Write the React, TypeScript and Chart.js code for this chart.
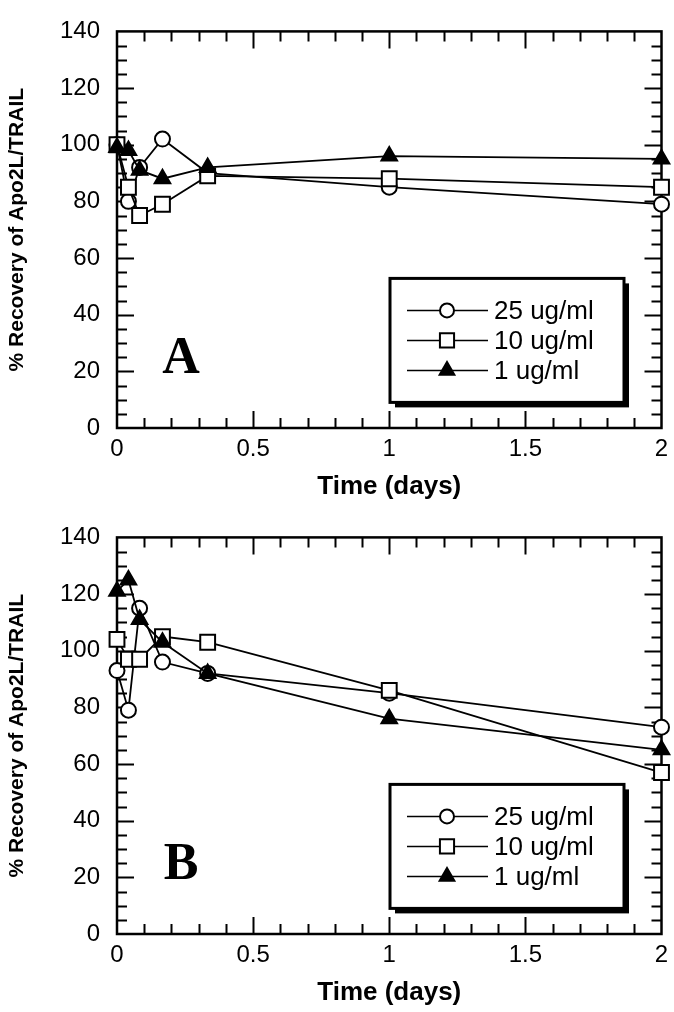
import React, { useEffect, useRef } from 'react';
import { Chart, registerables } from 'chart.js';

Chart.register(...registerables);

// ---- data ----
const timeDays = [0, 0.042, 0.083, 0.167, 0.333, 1, 2];
const seriesLabels = ['25 ug/ml', '10 ug/ml', '1 ug/ml'];

const panelA25 = [100, 80, 92, 102, 90, 85, 79];
const panelA10 = [100, 85, 75, 79, 89, 88, 85];
const panelA1 = [99, 98, 91, 88, 92, 96, 95];

const panelB25 = [93, 79, 115, 96, 92, 85, 73];
const panelB10 = [104, 97, 97, 105, 103, 86, 57];
const panelB1 = [121, 125, 111, 103, 92, 76, 65];

const yTickMax = 140;
const yTickStep = 20;
const xTickMax = 2;
const xTickStep = 0.5;

const FONT = "'Liberation Sans', Arial, Helvetica, sans-serif";

type Marker = 'circle' | 'rect' | 'triangle';

function drawMarker(ctx: CanvasRenderingContext2D, style: Marker, x: number, y: number, r: number) {
  ctx.beginPath();
  if (style === 'circle') {
    ctx.arc(x, y, r, 0, Math.PI * 2);
    ctx.fillStyle = '#fff';
    ctx.fill();
    ctx.stroke();
  } else if (style === 'rect') {
    const s = r * Math.SQRT1_2;
    ctx.rect(x - s, y - s, 2 * s, 2 * s);
    ctx.fillStyle = '#fff';
    ctx.fill();
    ctx.stroke();
  } else {
    let rad = 0;
    ctx.moveTo(x + Math.sin(rad) * r, y - Math.cos(rad) * r);
    rad += (2 * Math.PI) / 3;
    ctx.lineTo(x + Math.sin(rad) * r, y - Math.cos(rad) * r);
    rad += (2 * Math.PI) / 3;
    ctx.lineTo(x + Math.sin(rad) * r, y - Math.cos(rad) * r);
    ctx.closePath();
    ctx.fillStyle = '#000';
    ctx.fill();
    ctx.stroke();
  }
}

const decorPlugin = {
  id: 'decor',
  beforeDatasetsDraw(chart: any) {
    const { ctx, chartArea: ca, scales } = chart;
    const xs = scales.x;
    const ys = scales.y;
    ctx.save();
    ctx.strokeStyle = '#000';
    ctx.lineWidth = 2.5;
    ctx.strokeRect(ca.left, ca.top, ca.right - ca.left, ca.bottom - ca.top);
    ctx.lineWidth = 2;
    ctx.beginPath();
    for (let i = 1; i < 20; i++) {
      const px = Math.round(xs.getPixelForValue(i / 10)) + 0.5;
      const len = i % 5 === 0 ? 17 : 10;
      ctx.moveTo(px, ca.bottom);
      ctx.lineTo(px, ca.bottom - len);
      ctx.moveTo(px, ca.top);
      ctx.lineTo(px, ca.top + len);
    }
    for (let i = 1; i < 28; i++) {
      const v = i * 5;
      const py = Math.round(ys.getPixelForValue(v)) + 0.5;
      const len = v % 20 === 0 ? 17 : 10;
      ctx.moveTo(ca.left, py);
      ctx.lineTo(ca.left + len, py);
      ctx.moveTo(ca.right, py);
      ctx.lineTo(ca.right - len, py);
    }
    ctx.stroke();
    ctx.restore();
  },
  afterDraw(chart: any, _args: any, opts: any) {
    const { ctx, chartArea: ca } = chart;
    ctx.save();
    // panel letter
    ctx.fillStyle = '#000';
    ctx.font = "bold 52px 'Liberation Serif', 'Times New Roman', serif";
    ctx.textAlign = 'center';
    ctx.textBaseline = 'middle';
    ctx.fillText(opts.letter, ca.left + 64, ca.top + 328);

    // legend box
    const bx = ca.left + 273;
    const by = ca.top + 247;
    const bw = 234;
    const bh = 124;
    ctx.fillStyle = '#000';
    ctx.fillRect(bx + 5, by + 5, bw, bh);
    ctx.fillStyle = '#fff';
    ctx.fillRect(bx, by, bw, bh);
    ctx.strokeStyle = '#000';
    ctx.lineWidth = 3;
    ctx.strokeRect(bx, by, bw, bh);

    const ds = chart.data.datasets;
    ctx.font = `26px ${FONT}`;
    ctx.textAlign = 'left';
    ctx.textBaseline = 'middle';
    ds.forEach((d: any, i: number) => {
      const ry = by + 32 + i * 30;
      ctx.strokeStyle = '#000';
      ctx.lineWidth = 1.5;
      ctx.beginPath();
      ctx.moveTo(bx + 17, ry);
      ctx.lineTo(bx + 98, ry);
      ctx.stroke();
      ctx.lineWidth = 2;
      drawMarker(ctx, d.pointStyle, bx + 57, ry, d.pointStyle === 'rect' ? 10 : d.pointStyle === 'triangle' ? 8.5 : 7);
      ctx.fillStyle = '#000';
      ctx.fillText(d.label, bx + 104, ry + 1);
    });
    ctx.restore();
  },
};

function makeDatasets(v25: number[], v10: number[], v1: number[]) {
  const pts = (vals: number[]) => timeDays.map((t, i) => ({ x: t, y: vals[i] }));
  const base = {
    borderColor: '#000',
    borderWidth: 1.8,
    pointBorderColor: '#000',
    pointBorderWidth: 2,
    tension: 0,
    clip: false as const,
  };
  return [
    { ...base, label: seriesLabels[0], data: pts(v25), pointStyle: 'circle', pointRadius: 7.5, pointBackgroundColor: '#fff', order: 2 },
    { ...base, label: seriesLabels[1], data: pts(v10), pointStyle: 'rect', pointRadius: 10.5, pointBackgroundColor: '#fff', order: 1 },
    { ...base, label: seriesLabels[2], data: pts(v1), pointStyle: 'triangle', pointRadius: 9, pointBackgroundColor: '#000', order: 0 },
  ];
}

function Panel({ letter, v25, v10, v1, top }: { letter: string; v25: number[]; v10: number[]; v1: number[]; top: number }) {
  const ref = useRef<HTMLCanvasElement | null>(null);
  useEffect(() => {
    if (!ref.current) return;
    const chart = new Chart(ref.current, {
      type: 'line',
      data: { datasets: makeDatasets(v25, v10, v1) as any },
      plugins: [decorPlugin],
      options: {
        animation: false,
        responsive: false,
        devicePixelRatio: 1,
        layout: { padding: { top: 26, right: 11, left: 0, bottom: 0 } },
        plugins: {
          legend: { display: false },
          tooltip: { enabled: false },
          decor: { letter },
        } as any,
        scales: {
          x: {
            type: 'linear',
            min: 0,
            max: xTickMax,
            grid: { display: false, drawTicks: false },
            border: { display: false },
            ticks: {
              stepSize: xTickStep,
              color: '#000',
              padding: 7,
              maxRotation: 0,
              autoSkip: false,
              font: { family: FONT, size: 24 },
              callback: (v: any) => String(Number(v)),
            },
            title: {
              display: true,
              text: 'Time (days)',
              color: '#000',
              font: { family: FONT, size: 26, weight: 'bold' },
              padding: { top: 0, bottom: 4 },
            },
            afterFit: (s: any) => {
              s.height = 78;
              s.paddingLeft = 0;
              s.paddingRight = 0;
            },
          },
          y: {
            type: 'linear',
            min: 0,
            max: yTickMax,
            grid: { display: false, drawTicks: false },
            border: { display: false },
            ticks: {
              stepSize: yTickStep,
              color: '#000',
              padding: 17,
              font: { family: FONT, size: 24 },
            },
            title: {
              display: true,
              text: '% Recovery of Apo2L/TRAIL',
              color: '#000',
              font: { family: FONT, size: 21, weight: 'bold' },
              padding: { top: 5, bottom: 0 },
            },
            afterFit: (s: any) => {
              s.width = 117;
            },
          },
        },
      } as any,
    });
    return () => chart.destroy();
  }, [letter, v25, v10, v1]);
  return (
    <canvas
      ref={ref}
      width={674}
      height={506}
      style={{ position: 'absolute', left: 0, top, width: 674, height: 506 }}
    />
  );
}

export default function App() {
  return (
    <div style={{ position: 'absolute', left: 0, top: 0, width: 674, height: 1012, background: '#fff' }}>
      <Panel letter="A" v25={panelA25} v10={panelA10} v1={panelA1} top={0} />
      <Panel letter="B" v25={panelB25} v10={panelB10} v1={panelB1} top={506} />
    </div>
  );
}
